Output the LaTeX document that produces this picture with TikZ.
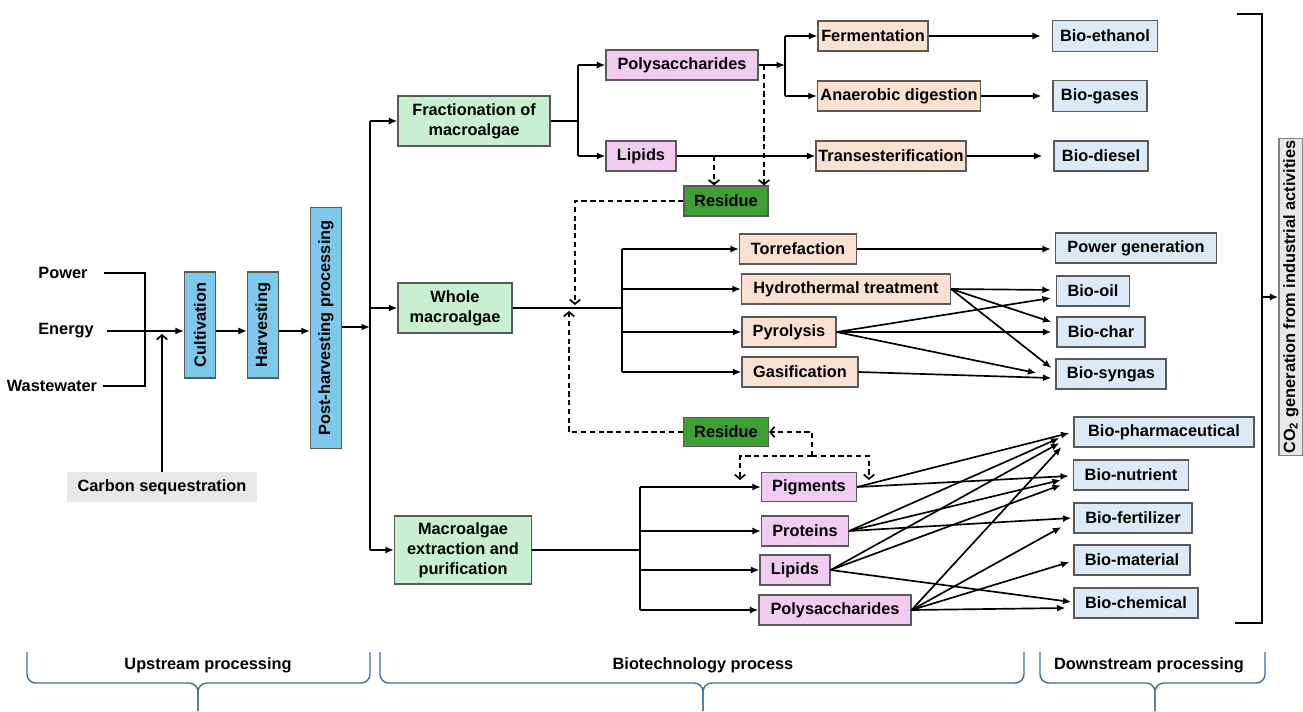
\documentclass[tikz,border=0pt]{standalone}
\usepackage{fontspec}
\setmainfont{Liberation Sans}
\usetikzlibrary{arrows.meta, calc, positioning}

\definecolor{upblue}{RGB}{125,200,235}
\definecolor{alggreen}{RGB}{200,240,208}
\definecolor{comppink}{RGB}{242,204,240}
\definecolor{procpeach}{RGB}{250,225,210}
\definecolor{prodblue}{RGB}{220,233,246}
\definecolor{resgreen}{RGB}{62,160,52}
\definecolor{seqgray}{RGB}{232,232,232}
\definecolor{bracecol}{RGB}{60,110,150}

\begin{document}
\begin{tikzpicture}[x=0.02cm, y=-0.02cm,
        font=\fontsize{9.3}{11.5}\selectfont\bfseries,
        box/.style={draw=black!65, line width=0.7pt, inner sep=1pt, minimum height=0.6cm, align=center},
        upbox/.style={box, fill=upblue, rotate=90, minimum height=0.62cm},
        algbox/.style={box, fill=alggreen},
        compbox/.style={box, fill=comppink},
        procbox/.style={box, fill=procpeach},
        prodbox/.style={box, fill=prodblue},
        resbox/.style={box, fill=resgreen},
        link/.style={line width=0.95pt},
        flow/.style={link, -{Latex[length=4.8pt,width=4pt]}},
        back/.style={link, dash pattern=on 3pt off 2pt, -{Straight Barb[length=2.5pt,width=6pt]}},
        brc/.style={draw=bracecol, line width=0.8pt, rounded corners=5pt}]
        \useasboundingbox (0,0) rectangle (1303,711);

        % upstream
        \node (pw) at (63,273) {Power};
        \node (en) at (66,331) {Energy};
        \node (ww) at (52,386) {Wastewater};
        \node[fill=seqgray, minimum width=3.8cm, minimum height=0.6cm] (carb) at (162,487) {Carbon sequestration};

        \node[upbox, minimum width=2.12cm] (cult) at (200,325) {Cultivation};
        \node[upbox, minimum width=2.12cm] (harv) at (263,325) {Harvesting};
        \node[upbox, minimum width=4.82cm] (post) at (326,328) {Post-harvesting processing};

        \coordinate (bus) at (145,331);
        \draw[link, shorten <=6pt] (pw.east) -| (bus) |- (ww.east);
        \draw[flow, shorten <=4pt] (en.east) -- (cult.north |- en);
        \draw[link, -{Straight Barb[length=2.5pt,width=6pt]}] (carb.north) -- ($(carb.north |- en)+(0,3)$);
        \draw[flow] (cult.south |- en) -- (harv.north |- en);
        \draw[flow] (harv.south |- en) -- (post.north |- en);

        \coordinate (split) at (370,327);
        \draw[flow] (post.south |- split) -- (split);

        % biotechnology
        \node[algbox, minimum width=3.04cm, minimum height=1cm] (frac) at (474,121) {Fractionation of\\macroalgae};
        \node[algbox, minimum width=2.28cm, minimum height=1cm] (whole) at (455,308) {Whole\\macroalgae};
        \node[algbox, minimum width=2.74cm, minimum height=1.36cm] (extr) at (463,550) {Macroalgae\\extraction and\\purification};

        \draw[link] (split |- frac) -- (split |- extr);
        \draw[flow] (split |- frac) -- (frac.west);
        \draw[flow] (split |- whole) -- (whole.west);
        \draw[flow] (split |- extr) -- (extr.west);

        \node[compbox, minimum width=3.04cm] (poly1) at (682,65) {Polysaccharides};
        \node[compbox, minimum width=1.4cm] (lip1) at (641,156) {Lipids};
        \node[resbox, minimum width=1.68cm] (res1) at (726,201) {Residue};
        \node[procbox, minimum width=2.2cm] (ferm) at (873,36) {Fermentation};
        \node[procbox, minimum width=3.26cm] (anae) at (899,96) {Anaerobic digestion};
        \node[procbox, minimum width=3cm] (trans) at (891,156) {Transesterification};

        \coordinate (fsplit) at (578,121);
        \draw[link] (frac.east) -- (fsplit);
        \draw[link] (fsplit |- poly1) -- (fsplit |- lip1);
        \draw[flow] (fsplit |- poly1) -- (poly1.west);
        \draw[flow] (fsplit |- lip1) -- (lip1.west);

        \coordinate (psplit) at (785,65);
        \draw[flow] (poly1.east) -- (psplit);
        \draw[link] (psplit |- ferm) -- (psplit |- anae);
        \draw[flow] (psplit |- ferm) -- (ferm.west);
        \draw[flow] (psplit |- anae) -- (anae.west);
        \draw[flow] (lip1.east) -- (trans.west);

        \coordinate (d1) at (714,156);
        \coordinate (d2) at (764,65);
        \draw[back] (d1) -- (d1 |- res1.north);
        \draw[back] (d2) -- (d2 |- res1.north);

        \node[procbox, minimum width=2.34cm] (torr) at (798,249) {Torrefaction};
        \node[procbox, minimum width=4.18cm] (hydr) at (846,289) {Hydrothermal treatment};
        \node[procbox, minimum width=1.88cm] (pyro) at (789,332) {Pyrolysis};
        \node[procbox, minimum width=2.32cm] (gasi) at (800,372) {Gasification};

        \coordinate (wsplit) at (622,308);
        \draw[link] (whole.east) -- (wsplit);
        \draw[link] (wsplit |- torr) -- (wsplit |- gasi);
        \draw[flow] (wsplit |- torr) -- (torr.west);
        \draw[flow] (wsplit |- hydr) -- (hydr.west);
        \draw[flow] (wsplit |- pyro) -- (pyro.west);
        \draw[flow] (wsplit |- gasi) -- (gasi.west);

        \coordinate (r1in) at (575,305);
        \coordinate (r2in) at (569,311);
        \draw[back] (res1.west) -| (r1in);

        \node[resbox, minimum width=1.7cm, minimum height=0.58cm] (res2) at (726,432) {Residue};
        \draw[back] (res2.west) -| (r2in);

        \node[compbox, minimum width=1.9cm, minimum height=0.58cm] (pigm) at (809,487) {Pigments};
        \node[compbox, minimum width=1.74cm] (prot) at (805,531) {Proteins};
        \node[compbox, minimum width=1.4cm] (lip2) at (795,570) {Lipids};
        \node[compbox, minimum width=3.04cm] (poly2) at (835,610) {Polysaccharides};

        \coordinate (esplit) at (640,550);
        \draw[link] (extr.east) -- (esplit);
        \draw[link] (esplit |- pigm) -- (esplit |- poly2);
        \draw[flow] (esplit |- pigm) -- (pigm.west);
        \draw[flow] (esplit |- prot) -- (prot.west);
        \draw[flow] (esplit |- lip2) -- (lip2.west);
        \draw[flow] (esplit |- poly2) -- (poly2.west);

        \coordinate (rj) at (812,456);
        \coordinate (pl) at (740,480);
        \coordinate (pr) at (869,480);
        \draw[back] (rj) |- (res2.east);
        \draw[back] (rj) -| (pl);
        \draw[back] (rj) -| (pr);

        % downstream
        \node[prodbox, minimum width=2.1cm, minimum height=0.62cm] (eth) at (1105,36) {Bio-ethanol};
        \node[prodbox, minimum width=1.88cm, minimum height=0.62cm] (gas) at (1100,96) {Bio-gases};
        \node[prodbox, minimum width=1.88cm] (dies) at (1101,156) {Bio-diesel};
        \draw[flow, shorten >=0.22cm] (ferm.east) -- (ferm.east -| eth.west);
        \draw[flow, shorten >=0.22cm] (anae.east) -- (anae.east -| gas.west);
        \draw[flow, shorten >=0.22cm] (trans.east) -- (trans.east -| dies.west);

        \node[prodbox, minimum width=3.22cm] (powg) at (1136,248) {Power generation};
        \node[prodbox, minimum width=1.46cm] (oil) at (1093,291) {Bio-oil};
        \node[prodbox, minimum width=1.76cm] (char) at (1101,332) {Bio-char};
        \node[prodbox, minimum width=2.2cm] (syng) at (1111,374) {Bio-syngas};

        \draw[flow] (torr.east) -- ($(powg.west |- torr)+(-4,0)$);
        \draw[flow] (hydr.east) -- ($(oil.west)+(-5,-1)$);
        \draw[flow] (hydr.east) -- ($(char.west)+(-5,-10)$);
        \draw[flow] (hydr.east) -- ($(syng.west)+(-4,-6)$);
        \draw[flow] (pyro.east) -- ($(oil.west)+(-5,7)$);
        \draw[flow] (pyro.east) -- ($(char.west)+(-5,0)$);
        \draw[flow] (pyro.east) -- ($(syng.west)+(-19,-1)$);
        \draw[flow] (gasi.east) -- ($(syng.west)+(-4,4)$);

        \node[prodbox, minimum width=3.6cm] (phar) at (1164,432) {Bio-pharmaceutical};
        \node[prodbox, minimum width=2.3cm] (nutr) at (1131,475) {Bio-nutrient};
        \node[prodbox, minimum width=2.36cm] (fert) at (1133,518) {Bio-fertilizer};
        \node[prodbox, minimum width=2.32cm] (matl) at (1132,560) {Bio-material};
        \node[prodbox, minimum width=2.48cm] (chem) at (1136,603) {Bio-chemical};

        \draw[flow] (pigm.east) -- ($(phar.west)+(-4,1)$);
        \draw[flow] (pigm.east) -- ($(nutr.west)+(-4,1)$);
        \draw[flow] (prot.east) -- ($(phar.west)+(-14,6)$);
        \draw[flow] (prot.east) -- ($(nutr.west)+(-12,5)$);
        \draw[flow] (prot.east) -- ($(fert.west)+(-2,0)$);
        \draw[flow] (lip2.east) -- ($(phar.west)+(-14,11)$);
        \draw[flow] (lip2.east) -- ($(nutr.west)+(-12,10)$);
        \draw[flow] (lip2.east) -- ($(chem.west)+(-2,-1)$);
        \draw[flow] (poly2.east) -- ($(phar.west)+(-12,15)$);
        \draw[flow] (poly2.east) -- ($(fert.west)+(-12,9)$);
        \draw[flow] (poly2.east) -- ($(matl.west)+(-4,2)$);
        \draw[flow] (poly2.east) -- ($(chem.west)+(-8,5)$);

        % CO2 outlet
        \coordinate (bt) at (1262,14);
        \coordinate (bb) at (1262,623);
        \draw[link] (1237,14) -- (bt) -- (bb) -- (1235,623);
        \node[box, rotate=90, fill=seqgray, draw=black!50, minimum width=6.3cm, minimum height=0.48cm] (co2) at (1291,297) {CO\textsubscript{2} generation from industrial activities};
        \draw[flow] (co2.north -| bt) -- (co2.north);

        % stages
        \draw[brc] (27,652) |- (198,683) -- (198,711);
        \draw[brc] (370,652) |- (198,683) -- (198,711);
        \draw[brc] (380,652) |- (703,683) -- (703,711);
        \draw[brc] (1024,652) |- (703,683) -- (703,711);
        \draw[brc] (1040,652) |- (1155,683) -- (1155,711);
        \draw[brc] (1265,652) |- (1155,683) -- (1155,711);
        \node (upst) at (208,665) {Upstream processing};
        \node (biot) at (703,665) {Biotechnology process};
        \node (down) at (1149,665) {Downstream processing};
\end{tikzpicture}
\end{document}
